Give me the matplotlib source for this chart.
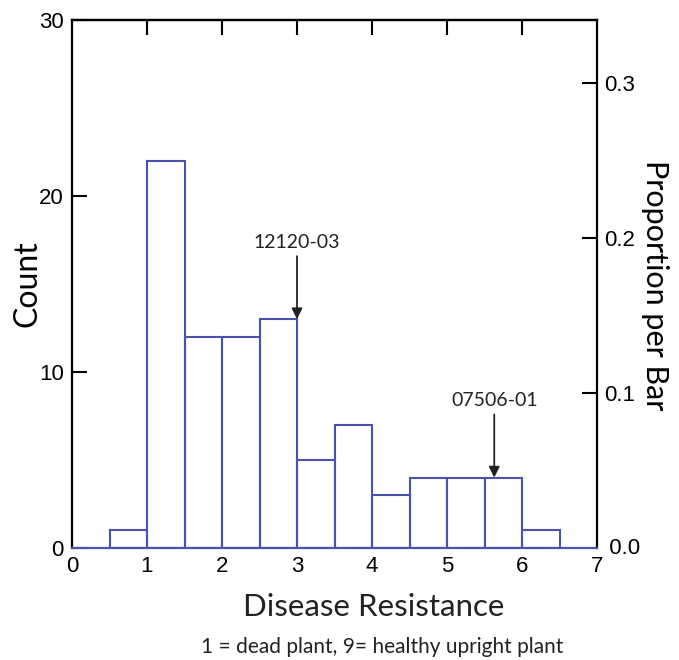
import numpy as np
import matplotlib
matplotlib.use("Agg")
import matplotlib.pyplot as plt
from matplotlib import font_manager

# ---------------------------------------------------------------------------
#  Data
# ---------------------------------------------------------------------------
bin_left = [0.5, 1.0, 1.5, 2.0, 2.5, 3.0, 3.5, 4.0, 4.5, 5.0, 5.5, 6.0]
counts   = [1, 22, 12, 12, 13, 5, 7, 3, 4, 4, 4, 1]
bin_width = 0.5
x_ticks = [0, 1, 2, 3, 4, 5, 6, 7]
count_ticks = [0, 10, 20, 30]
prop_ticks = [0.0, 0.1, 0.2, 0.3]
marks = [("12120-03", 3.0, 13), ("07506-01", 5.63, 4)]

total = sum(counts)

names = {f.name for f in font_manager.fontManager.ttflist}
tick_font = "Liberation Sans Narrow" if "Liberation Sans Narrow" in names else "Liberation Sans"
label_font = "Lato" if "Lato" in names else "DejaVu Sans"
TICK_SIZE = 16

BAR_COLOR = "#4a52b0"

fig = plt.figure(figsize=(6.79, 6.60), dpi=100)
ax = fig.add_axes([72/679, 112/660, 525/679, 528/660])

ax.bar(bin_left, counts, width=bin_width, align="edge", fill=False,
       edgecolor=BAR_COLOR, linewidth=1.5, zorder=3)

ax.set_xlim(0, 7)
ax.set_ylim(0, 30)
ax.set_xticks(x_ticks)
ax.set_yticks(count_ticks)

for s in ["left", "top", "right"]:
    ax.spines[s].set_linewidth(1.6)
ax.spines["bottom"].set_color(BAR_COLOR)
ax.spines["bottom"].set_linewidth(1.6)

ax.tick_params(axis="y", direction="in", length=11, width=1.5, pad=6,
               labelsize=TICK_SIZE)
ax.tick_params(axis="x", length=0, pad=6, labelsize=TICK_SIZE)
for lab in ax.get_xticklabels() + ax.get_yticklabels():
    lab.set_fontfamily(tick_font)

# top inward ticks at 1..6
ax_top = ax.secondary_xaxis("top")
ax_top.set_xticks(x_ticks[1:-1])
ax_top.tick_params(direction="in", length=11, width=1.5, labeltop=False)
ax_top.spines["top"].set_linewidth(1.6)

# right proportion axis
ax2 = ax.twinx()
ax2.set_ylim(0, 30 / total)
ax2.set_yticks(prop_ticks[1:])
ax2.set_yticklabels([f"{v:.1f}" for v in prop_ticks[1:]])
ax2.tick_params(axis="y", direction="in", length=11, width=1.5, pad=5,
                labelsize=TICK_SIZE)
for s in ax2.spines.values():
    s.set_visible(False)
for lab in ax2.get_yticklabels():
    lab.set_fontfamily(tick_font)
ax2.text(1.0, 0.0, "  0.0", transform=ax.transAxes, ha="left", va="center",
         fontsize=TICK_SIZE, family=tick_font)

fig.text(27/679, 1 - 284/660, "Count", rotation=90, fontsize=23,
         family=label_font, ha="center", va="center")
fig.text(655/679, 1 - 285/660, "Proportion per Bar", rotation=-90,
         fontsize=22, family=label_font, ha="center", va="center")

fig.text(374/679, 1 - 607/660, "Disease Resistance", fontsize=22.5,
         family=label_font, ha="center", va="center", color="#222222")
fig.text(382/679, 1 - 647/660, "1 = dead plant, 9= healthy upright plant",
         fontsize=15, family=label_font, ha="center", va="center",
         color="#222222")

for name, xpos, top in marks:
    ax.annotate(name, xy=(xpos, top), xytext=(xpos, top + 3.9),
                ha="center", va="bottom", fontsize=14, family=label_font,
                color="#222222",
                arrowprops=dict(arrowstyle="-|>", color="#222222", lw=1.3,
                                shrinkA=2, shrinkB=0, mutation_scale=16))

fig.savefig("out.png", dpi=100)
